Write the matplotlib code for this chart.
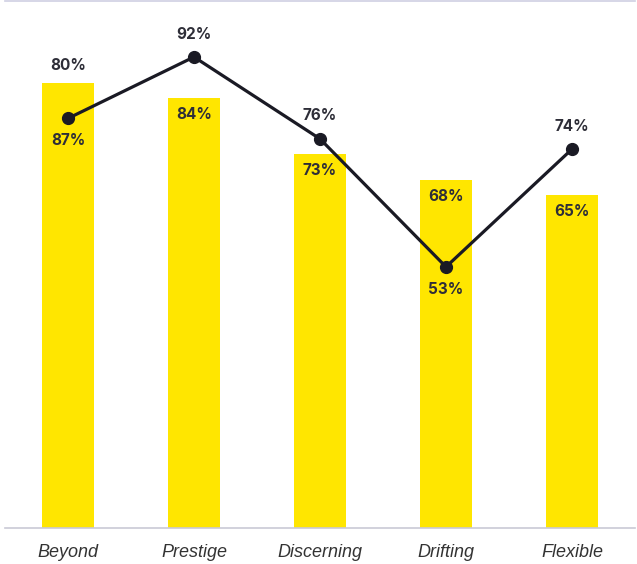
import matplotlib
matplotlib.use("Agg")
import matplotlib.pyplot as plt

categories = ["Beyond", "Prestige", "Discerning", "Drifting", "Flexible"]
bar_values = [87, 84, 73, 68, 65]
line_values = [80, 92, 76, 51, 74]
bar_labels = ["80%", "84%", "73%", "68%", "65%"]
line_labels = ["87%", "92%", "76%", "53%", "74%"]
bar_label_above = [True, False, False, False, False]
line_label_above = [False, True, True, False, True]

W, H = 637, 564
fig = plt.figure(figsize=(W / 100, H / 100), dpi=100)
ax = fig.add_axes([5 / W, (H - 528) / H, 630 / W, 527 / H])

x = list(range(len(categories)))
ax.bar(x, bar_values, width=0.42, color="#FFE600", zorder=1)
ax.plot(x, line_values, color="#1a1a24", lw=2.3, marker="o", ms=8.5, zorder=3,
        solid_capstyle="round")

ax.set_xlim(-0.5, len(categories) - 0.5)
ax.set_ylim(0, 527 / 5.12)

txt_color = "#2e2e38"
font = dict(family="Inter", fontweight="bold", fontsize=11, color=txt_color)
for i, (v, lab, above) in enumerate(zip(bar_values, bar_labels, bar_label_above)):
    off = 12.5 if above else -12
    ax.annotate(lab, (i, v), xytext=(0, off), textcoords="offset points",
                ha="center", va="center", zorder=4, **font)
for i, (v, lab, above) in enumerate(zip(line_values, line_labels, line_label_above)):
    off = 16.5 if above else -16
    ax.annotate(lab, (i, v), xytext=(0, off), textcoords="offset points",
                ha="center", va="center", zorder=4, **font)

for s in ["left", "right"]:
    ax.spines[s].set_visible(False)
ax.spines["bottom"].set_color("#c9c9d6")
ax.spines["bottom"].set_linewidth(1.2)
ax.spines["top"].set_color("#cfcfe3")
ax.spines["top"].set_linewidth(1.2)

ax.set_yticks([])
ax.set_xticks(x)
ax.set_xticklabels(categories, fontstyle="italic", family=["Liberation Sans", "DejaVu Sans"],
                   fontsize=13, color="#333333")
ax.tick_params(axis="x", length=0, pad=11.5)

fig.savefig("out.png", dpi=100)
